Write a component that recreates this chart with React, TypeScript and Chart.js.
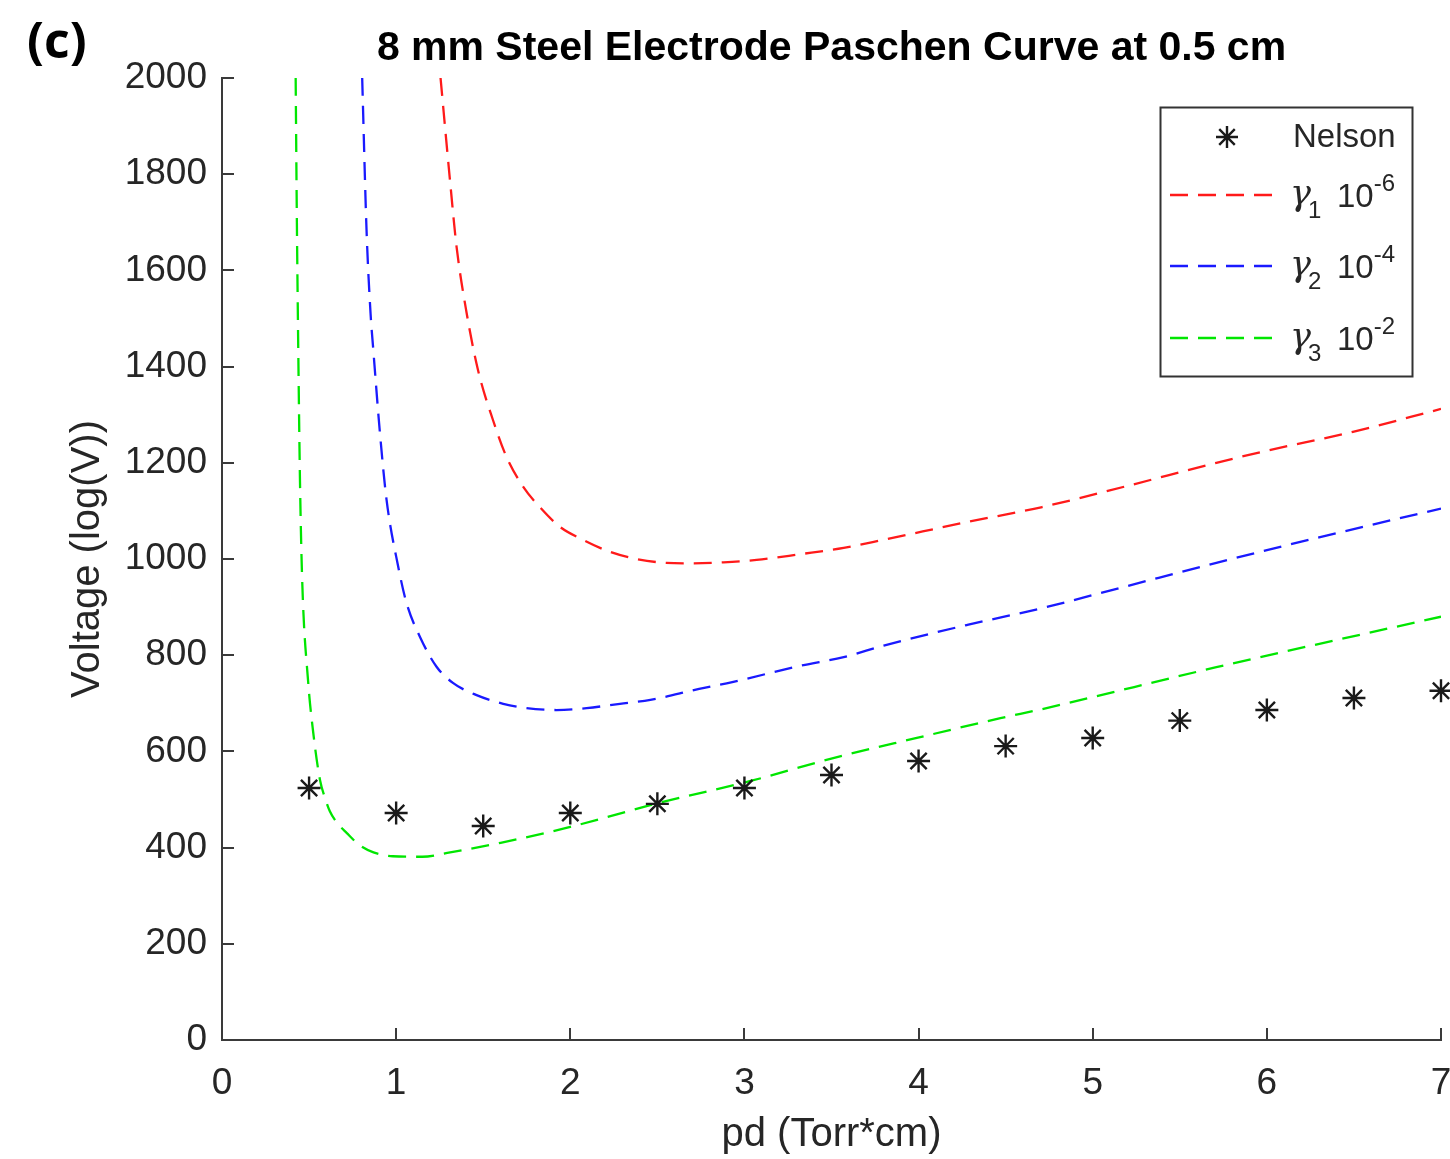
import React, { useEffect, useRef } from 'react';
import { Chart, registerables } from 'chart.js';

Chart.register(...registerables);

// ---------- data ----------
const nelsonPd = [0.5, 1, 1.5, 2, 2.5, 3, 3.5, 4, 4.5, 5, 5.5, 6, 6.5, 7];
const nelsonV = [524, 472, 445, 472, 491, 524, 551, 580, 611, 628, 664, 686, 711, 726];

const gamma1Pd = [1.255, 1.309, 1.347, 1.405, 1.47, 1.556, 1.634, 1.73, 1.825, 1.94, 2.073, 2.227, 2.38, 2.55, 2.7, 2.88, 3.07, 3.32, 3.57, 3.8, 4.28, 4.71, 5.2, 5.71, 6.0, 6.5, 7.0];
const gamma1V = [2000, 1788, 1649, 1511, 1393, 1289, 1212, 1150, 1108, 1067, 1040, 1015, 1000, 992, 991, 993, 998, 1010, 1023, 1040, 1077, 1108, 1152, 1200, 1225, 1265, 1312];

const gamma2Pd = [0.805, 0.83, 0.853, 0.869, 0.907, 0.945, 1.012, 1.06, 1.137, 1.232, 1.328, 1.462, 1.615, 1.749, 1.921, 2.094, 2.285, 2.46, 2.74, 2.93, 3.32, 3.57, 3.8, 4.28, 4.71, 5.2, 5.71, 6.3, 7.0];
const gamma2V = [2000, 1684, 1511, 1434, 1262, 1123, 984, 908, 838, 776, 742, 717, 699, 690, 686, 690, 699, 707, 730, 744, 778, 796, 820, 863, 898, 944, 992, 1045, 1105];

const gamma3Pd = [0.423, 0.43, 0.438, 0.448, 0.461, 0.494, 0.522, 0.563, 0.59, 0.62, 0.66, 0.717, 0.79, 0.87, 0.98, 1.15, 1.31, 1.6, 2.0, 2.51, 3.03, 3.51, 3.99, 4.47, 4.71, 5.71, 7.0];
const gamma3V = [2000, 1700, 1434, 1158, 950, 748, 645, 540, 505, 475, 452, 430, 405, 390, 382, 381, 390, 410, 443, 493, 538, 586, 628, 669, 688, 775, 880];

const seriesNames = ['Nelson', 'γ1 10^-6', 'γ2 10^-4', 'γ3 10^-2'];
const legendSubs = ['1', '2', '3'];
const legendExps = ['-6', '-4', '-2'];

const xTickValues = [0, 1, 2, 3, 4, 5, 6, 7];
const yTickValues = [0, 200, 400, 600, 800, 1000, 1200, 1400, 1600, 1800, 2000];

const chartTitle = '8 mm Steel Electrode Paschen Curve at 0.5 cm';
const panelLabel = '(c)';
const xAxisTitle = 'pd (Torr*cm)';
const yAxisTitle = 'Voltage (log(V))';

// ---------- styles ----------
const AXIS_COLOR = '#3a3a3a';
const TEXT_COLOR = '#262626';
const FONT = '"Liberation Sans", Arial, Helvetica, sans-serif';
const COLORS = ['#1a1a1a', '#ff1a1a', '#1a1aff', '#00e600'];
const DASH = [18, 10];
const LINE_W = 2.3;

const toPoints = (xs: number[], ys: number[]) => xs.map((x, i) => ({ x, y: ys[i] }));

function drawStar(ctx: CanvasRenderingContext2D, cx: number, cy: number, r: number) {
  const d = r * Math.SQRT1_2;
  ctx.beginPath();
  ctx.moveTo(cx - r, cy); ctx.lineTo(cx + r, cy);
  ctx.moveTo(cx, cy - r); ctx.lineTo(cx, cy + r);
  ctx.moveTo(cx - d, cy - d); ctx.lineTo(cx + d, cy + d);
  ctx.moveTo(cx - d, cy + d); ctx.lineTo(cx + d, cy - d);
  ctx.stroke();
}

const decorations = {
  id: 'decorations',
  afterDraw(chart: any) {
    const ctx: CanvasRenderingContext2D = chart.ctx;
    const { left, right, bottom } = chart.chartArea;
    const xs = chart.scales.x;
    const ys = chart.scales.y;
    ctx.save();

    // inward tick marks
    ctx.strokeStyle = AXIS_COLOR;
    ctx.lineWidth = 2;
    ctx.setLineDash([]);
    yTickValues.forEach((v) => {
      const py = Math.round(ys.getPixelForValue(v));
      ctx.beginPath();
      ctx.moveTo(left, py);
      ctx.lineTo(left + 12, py);
      ctx.stroke();
    });
    xTickValues.forEach((v) => {
      const px = Math.round(xs.getPixelForValue(v));
      ctx.beginPath();
      ctx.moveTo(px, bottom);
      ctx.lineTo(px, bottom - 12);
      ctx.stroke();
    });

    // title
    ctx.fillStyle = '#000';
    ctx.font = `bold 41px ${FONT}`;
    ctx.textAlign = 'center';
    ctx.textBaseline = 'middle';
    ctx.fillText(chartTitle, (left + right) / 2, 49);

    // panel label
    ctx.font = 'bold 50px "Open Sans", Lato, sans-serif';
    ctx.textAlign = 'left';
    ctx.textBaseline = 'middle';
    ctx.fillText(panelLabel, 27, 44);

    // legend
    const bx = 1160, by = 107, bw = 252, bh = 269;
    ctx.fillStyle = '#fff';
    ctx.fillRect(bx, by, bw, bh);
    ctx.strokeStyle = '#333';
    ctx.lineWidth = 2;
    ctx.strokeRect(bx + 0.5, by + 0.5, bw, bh);

    // Nelson row
    ctx.strokeStyle = COLORS[0];
    ctx.lineWidth = 2.4;
    drawStar(ctx, 1227, 137, 11);
    ctx.fillStyle = TEXT_COLOR;
    ctx.font = `33px ${FONT}`;
    ctx.textAlign = 'left';
    ctx.textBaseline = 'middle';
    ctx.fillText(seriesNames[0], 1293, 138);

    const rowY = [195, 266, 338];
    rowY.forEach((ly, i) => {
      ctx.strokeStyle = COLORS[i + 1];
      ctx.lineWidth = LINE_W;
      ctx.setLineDash(DASH);
      ctx.beginPath();
      ctx.moveTo(1170, ly);
      ctx.lineTo(1277, ly);
      ctx.stroke();
      ctx.setLineDash([]);

      ctx.fillStyle = TEXT_COLOR;
      ctx.textBaseline = 'alphabetic';
      ctx.font = `italic 35px "DejaVu Serif", "Liberation Serif", serif`;
      ctx.fillText('γ', 1290, ly + 10);
      const gw = ctx.measureText('γ').width;
      ctx.font = `24px ${FONT}`;
      ctx.fillText(legendSubs[i], 1290 + gw - 3, ly + 23);
      ctx.font = `33px ${FONT}`;
      ctx.fillText('10', 1337, ly + 12);
      const tw = ctx.measureText('10').width;
      ctx.font = `24px ${FONT}`;
      ctx.fillText(legendExps[i], 1337 + tw, ly - 4);
    });

    ctx.restore();
  },
};

export default function App() {
  const canvasRef = useRef<HTMLCanvasElement | null>(null);

  useEffect(() => {
    if (!canvasRef.current) return;
    const lineDs = (label: string, xsArr: number[], ysArr: number[], color: string) => ({
      type: 'line' as const,
      label,
      data: toPoints(xsArr, ysArr),
      borderColor: color,
      backgroundColor: color,
      borderWidth: LINE_W,
      borderDash: DASH,
      pointRadius: 0,
      fill: false,
      cubicInterpolationMode: 'monotone' as const,
    });

    const chart = new Chart(canvasRef.current, {
      type: 'scatter',
      data: {
        datasets: [
          {
            type: 'scatter',
            label: seriesNames[0],
            data: toPoints(nelsonPd, nelsonV),
            pointStyle: 'star',
            pointRadius: 11.5,
            pointBorderWidth: 2.4,
            borderColor: COLORS[0],
            backgroundColor: COLORS[0],
            clip: false,
          } as any,
          lineDs(seriesNames[1], gamma1Pd, gamma1V, COLORS[1]),
          lineDs(seriesNames[2], gamma2Pd, gamma2V, COLORS[2]),
          lineDs(seriesNames[3], gamma3Pd, gamma3V, COLORS[3]),
        ],
      },
      options: {
        responsive: false,
        animation: false,
        layout: { autoPadding: false, padding: { top: 78, right: 9, left: 0, bottom: 0 } },
        plugins: {
          legend: { display: false },
          title: { display: false },
          tooltip: { enabled: false },
        },
        scales: {
          x: {
            type: 'linear',
            min: 0,
            max: 7,
            grid: { display: false, drawTicks: false },
            border: { display: true, color: AXIS_COLOR, width: 2 },
            ticks: {
              stepSize: 1,
              padding: 22,
              color: TEXT_COLOR,
              font: { family: FONT, size: 37 },
              maxRotation: 0,
              autoSkip: false,
              callback: (v: any) => String(v),
            },
            title: {
              display: true,
              text: xAxisTitle,
              color: TEXT_COLOR,
              font: { family: FONT, size: 40 },
              padding: { top: 0, bottom: 0 },
            },
            afterFit(scale: any) {
              scale.height = 119;
              scale.paddingRight = 0;
              scale.paddingLeft = 0;
            },
          },
          y: {
            type: 'linear',
            min: 0,
            max: 2000,
            grid: { display: false, drawTicks: false },
            border: { display: true, color: AXIS_COLOR, width: 2 },
            ticks: {
              stepSize: 200,
              padding: 15,
              color: TEXT_COLOR,
              font: { family: FONT, size: 37 },
              autoSkip: false,
              callback: (v: any) => String(v),
            },
            title: {
              display: true,
              text: yAxisTitle,
              color: TEXT_COLOR,
              font: { family: FONT, size: 40 },
              padding: { top: 64, bottom: 0 },
            },
            afterFit(scale: any) {
              scale.width = 222;
            },
          },
        },
      } as any,
      plugins: [decorations],
    });

    return () => chart.destroy();
  }, []);

  return (
    <div style={{ position: 'absolute', left: 0, top: 0, width: 1450, height: 1159, background: '#fff' }}>
      <canvas ref={canvasRef} width={1450} height={1159} style={{ display: 'block' }} />
    </div>
  );
}
